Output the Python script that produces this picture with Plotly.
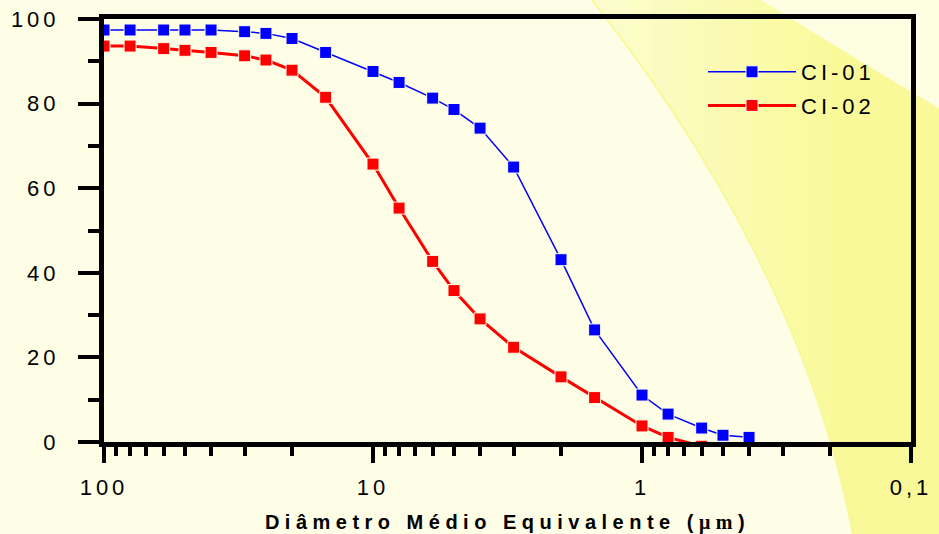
import plotly.graph_objects as go

# ---------------------------------------------------------------- data
diametro = [100, 80, 60, 50, 40, 30, 25, 20, 15, 10, 8, 6, 5, 4, 3, 2, 1.5, 1, 0.8, 0.6, 0.5, 0.4]
ci01 = [97.4, 97.4, 97.4, 97.4, 97.4, 97.0, 96.6, 95.4, 92.1, 87.6, 85.0, 81.3, 78.6,
        74.2, 65.0, 43.1, 26.5, 11.1, 6.6, 3.3, 1.6, 1.1]
diametro_ci02 = [100, 80, 60, 50, 40, 30, 25, 20, 15, 10, 8, 6, 5, 4, 3, 2, 1.5, 1, 0.8, 0.6]
ci02 = [93.6, 93.6, 93.0, 92.6, 92.1, 91.3, 90.3, 87.9, 81.5, 65.7, 55.3, 42.7, 35.8,
        29.1, 22.4, 15.4, 10.5, 3.8, 1.1, -1.0]

series_names = ["CI-01", "CI-02"]
y_tickvals = [0, 20, 40, 60, 80, 100]
y_ticklabels = ["0", "20", "40", "60", "80", "100"]
x_tickvals = [100, 10, 1, 0.1]
x_ticklabels = ["100", "10", "1", "0,1"]
x_title = "Diâmetro Médio Equivalente"
x_unit = "μm"

# ---------------------------------------------------------------- layout geometry
W, H = 939, 534
L, R, T, B = 104, 28, 19, 92
PW, PH = W - L - R, H - T - B
FONT = "Arial, 'Liberation Sans', sans-serif"
CREAM = "#FEFEE6"


def spaced(text, px):
    return f'<span style="letter-spacing:{px}px">{text}</span>'


def to_paper(px, py):
    return (px - L) / PW, (H - B - py) / PH


def poly_path(pts, close=True):
    pp = [to_paper(*p) for p in pts]
    d = "M" + " L".join(f"{x:.5f},{y:.5f}" for x, y in pp)
    return d + (" Z" if close else "")


def lerp_color(c0, c1, t):
    return "rgb({},{},{})".format(*[round(a + (b - a) * t) for a, b in zip(c0, c1)])


# decorative backdrop: a sweeping yellow band between two gentle arcs, shaded left to right
arc_a = [(592 + 0.7865 * y - 0.000558 * y * y, y) for y in range(-6, 545, 6)]
arc_b = [(761 + 1.6 * y + 0.0004 * y * y, y) for y in range(-6, 127, 6)]
far_right = [(1200, 560), (1200, -30)]

shapes = []
band_light = (252, 252, 206)
band_yellow = (249, 249, 154)
x_stops = list(range(590, 831, 20))
for k, xs in enumerate(x_stops):
    edge = [(max(x, xs), y) for x, y in arc_a]
    shapes.append(dict(type="path", xref="paper", yref="paper",
                       path=poly_path(edge + far_right),
                       fillcolor=lerp_color(band_light, band_yellow, k / (len(x_stops) - 1)),
                       line=dict(width=0), layer="below"))

shapes.append(dict(type="path", xref="paper", yref="paper",
                   path=poly_path(arc_b + [(1200, 160), (1200, -30)]),
                   fillcolor="#FEFEE2", line=dict(width=0), layer="below"))
shapes.append(dict(type="path", xref="paper", yref="paper", path=poly_path(arc_a, close=False),
                   line=dict(color="rgb(248,248,150)", width=2), layer="below"))

# ---------------------------------------------------------------- traces
fig = go.Figure()
fig.add_trace(go.Scatter(
    x=diametro, y=ci01, name=spaced(series_names[0], 4), mode="lines+markers",
    line=dict(color="#0000FF", width=1.5),
    marker=dict(symbol="square", size=12, color="#0000FF", line=dict(color=CREAM, width=1)),
    legendgroup="ci01", cliponaxis=True,
))
fig.add_trace(go.Scatter(
    x=diametro_ci02, y=ci02, name=spaced(series_names[1], 4), mode="lines+markers",
    line=dict(color="#FF0000", width=3),
    marker=dict(symbol="square", size=12, color="#FF0000", line=dict(color=CREAM, width=1)),
    legendgroup="ci02", cliponaxis=True,
))

axis_common = dict(showline=True, linecolor="black", linewidth=5, mirror=True,
                   ticks="outside", tickcolor="black", tickwidth=3.5,
                   showgrid=False, zeroline=False, automargin=False,
                   tickfont=dict(family=FONT, size=22, color="black"))

fig.update_xaxes(
    type="log", range=[2, -1], tickmode="array", tickvals=x_tickvals,
    ticktext=[spaced(t, 4) for t in x_ticklabels], ticklen=16, ticklabelstandoff=6,
    minor=dict(ticks="outside", tickmode="array",
               tickvals=[m * 10 ** e for e in (1, 0, -1) for m in range(2, 10)],
               ticklen=9, tickwidth=3.5, tickcolor="black"),
    title=dict(text="<b>" + spaced(x_title + " (", 5.5)
               + f'<span style="font-family:\'Liberation Serif\';letter-spacing:5.5px">{x_unit}</span>'
               + spaced(")", 5.5) + "</b>",
               font=dict(family=FONT, size=20, color="black"), standoff=24),
    **axis_common,
)
fig.update_yaxes(
    range=[0, 100], tickmode="array", tickvals=y_tickvals,
    ticktext=[spaced(t, 4) for t in y_ticklabels], ticklen=21, ticklabelstandoff=14,
    minor=dict(ticks="outside", dtick=10, ticklen=11, tickwidth=3.5, tickcolor="black"),
    **axis_common,
)

fig.update_layout(
    width=W, height=H,
    margin=dict(l=L, r=R, t=T, b=B, autoexpand=False),
    paper_bgcolor=CREAM, plot_bgcolor="rgba(0,0,0,0)",
    shapes=shapes,
    showlegend=True,
    legend=dict(x=(703 - L) / PW, y=(H - B - 51) / PH, xanchor="left", yanchor="top",
                bgcolor="rgba(0,0,0,0)", borderwidth=0, itemwidth=88,
                traceorder="grouped", tracegroupgap=2,
                font=dict(family=FONT, size=22, color="black")),
)

fig.write_html("out.html")
